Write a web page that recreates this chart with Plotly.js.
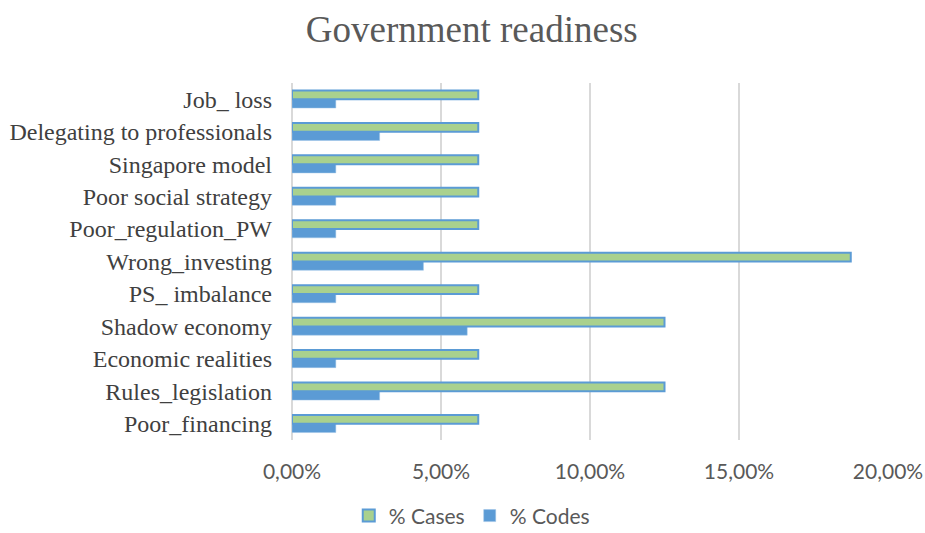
<!DOCTYPE html>
<html>
<head>
<meta charset="utf-8">
<script src="https://cdn.plot.ly/plotly-3.0.1.min.js"></script>
<style>html,body{margin:0;padding:0;background:#fff;}#chart{width:925px;height:533px;}</style>
</head>
<body>
<div id="chart"></div>
<script>
// categories listed bottom to top
var categories = ["Poor_financing", "Rules_legislation", "Economic realities", "Shadow economy", "PS_ imbalance", "Wrong_investing", "Poor_regulation_PW", "Poor social strategy", "Singapore model", "Delegating to professionals", "Job_ loss"];
var casesPct = [0.0625, 0.125, 0.0625, 0.125, 0.0625, 0.1875, 0.0625, 0.0625, 0.0625, 0.0625, 0.0625];
var codesPct = [0.0147, 0.0294, 0.0147, 0.0588, 0.0147, 0.0441, 0.0147, 0.0147, 0.0147, 0.0294, 0.0147];
var xTicks = [0, 0.05, 0.10, 0.15, 0.20];

var traces = [
  {type: "bar", orientation: "h", name: "% Codes", y: categories, x: codesPct,
   marker: {color: "#5B9BD5", line: {color: "#9DC3E6", width: 0.5}}, hoverinfo: "x+y"},
  {type: "bar", orientation: "h", name: "% Cases", y: categories, x: casesPct,
   marker: {color: "#A9D18E", line: {color: "#5B9BD5", width: 2}}, hoverinfo: "x+y"}
];

var layout = {
  width: 925, height: 533,
  margin: {l: 292, r: 37, t: 83, b: 93},
  paper_bgcolor: "#ffffff", plot_bgcolor: "#ffffff",
  separators: ", ",
  barmode: "group",
  bargap: 0.46,
  bargroupgap: 0,
  title: {text: "Government readiness", x: 0.51, xanchor: "center", y: 0.945, yanchor: "middle", yref: "container",
          font: {family: "Liberation Serif, Times New Roman, serif", size: 37, color: "#595959"}},
  xaxis: {range: [0, 0.2], tickvals: xTicks, tickformat: ".2%", showgrid: true, gridcolor: "#d9d9d9", gridwidth: 1.5,
          zeroline: true, zerolinecolor: "#d9d9d9", zerolinewidth: 1.5, showline: false, ticks: "",
          ticklabelstandoff: 17, fixedrange: true,
          tickfont: {family: "Lato, Carlito, sans-serif", size: 21, color: "#595959"}},
  yaxis: {type: "category", categoryorder: "array", categoryarray: categories, showgrid: false, zeroline: false,
          showline: false, ticks: "", ticklabelstandoff: 19, fixedrange: true,
          tickfont: {family: "Liberation Serif, Times New Roman, serif", size: 24, color: "#404040"}},
  showlegend: true,
  legend: {orientation: "h", traceorder: "reversed", xref: "container", yref: "container", x: 0.51, xanchor: "center",
           y: 0.032, yanchor: "middle", font: {family: "Lato, Carlito, sans-serif", size: 21, color: "#595959"},
           itemwidth: 30, bgcolor: "rgba(0,0,0,0)"}
};

Plotly.newPlot("chart", traces, layout, {displayModeBar: false, staticPlot: true});
</script>
</body>
</html>
